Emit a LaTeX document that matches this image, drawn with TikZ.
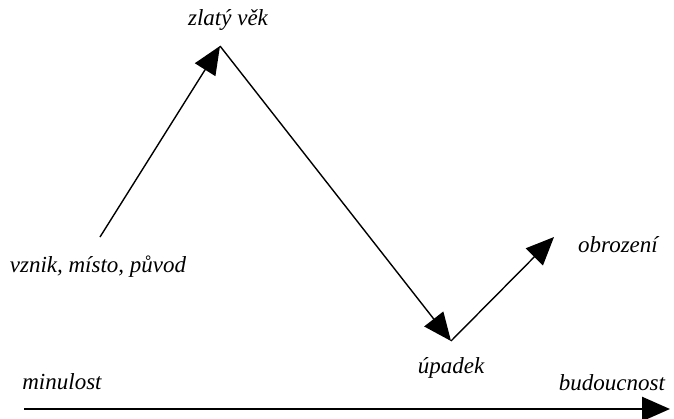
\documentclass[tikz,border=0pt]{standalone}
\usepackage{fontspec}
\setmainfont{Liberation Serif}[ItalicFont={Liberation Serif Italic}]
\usetikzlibrary{arrows.meta}

\begin{document}
\begin{tikzpicture}[x=1pt,y=-1pt,
                        lbl/.style={font=\itshape\fontsize{23}{27}\selectfont},
                        big/.style={-{Triangle[length=28pt,width=24pt]}, line width=1.4pt}]
                        \useasboundingbox (0,0) rectangle (674,418);
                        \coordinate (vznik) at (100,237);
                        \coordinate (vrchol) at (220,46);
                        \coordinate (dno) at (451,341);
                        \coordinate (konec) at (554,237);
                        \coordinate (minule) at (24,409);
                        \coordinate (budouci) at (670,409);

                        \node[lbl] (zlaty) at (228,20) {zlatý věk};
                        \node[lbl] (puvod) at (98,267) {vznik, místo, původ};
                        \node[lbl] (obroz) at (618,245) {obrození};
                        \node[lbl] (upadek) at (451,368) {úpadek};
                        \node[lbl] (minulost) at (62,382) {minulost};
                        \node[lbl] (budoucnost) at (612,383) {budoucnost};

                        \draw[big] (vznik) -- (vrchol);
                        \draw[big] (vrchol) -- (dno);
                        \draw[big] (dno) -- (konec);
                        \draw[big, line width=2.6pt] (minule) -- (budouci);
                    \end{tikzpicture}
\end{document}
